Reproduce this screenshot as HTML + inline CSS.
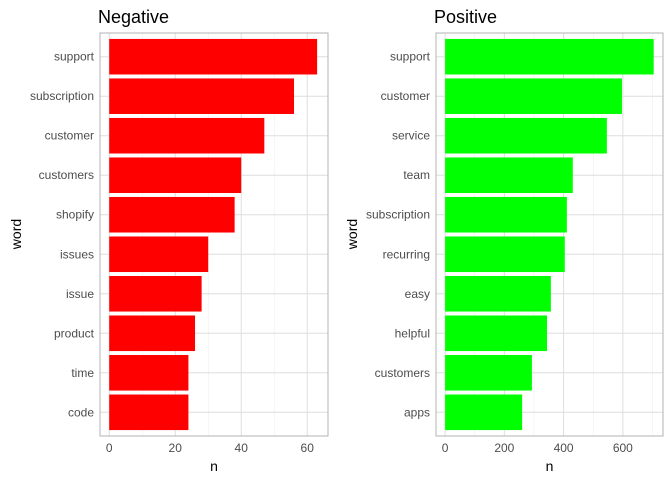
<!DOCTYPE html>
<html><head><meta charset="utf-8"><style>
body{margin:0;background:#fff;font-family:"Liberation Sans",sans-serif}
</style></head><body>
<svg id="c" width="672" height="480" xmlns="http://www.w3.org/2000/svg"></svg>
<script>
const negWords=["support","subscription","customer","customers","shopify","issues","issue","product","time","code"];
const negVals=[63,56,47,40,38,30,28,26,24,24];
const negTicks=[0,20,40,60];
const posWords=["support","customer","service","team","subscription","recurring","easy","helpful","customers","apps"];
const posVals=[704,597,546,431,411,404,357,344,293,260];
const posTicks=[0,200,400,600];
const svg=document.getElementById('c');
const NS='http://www.w3.org/2000/svg';
function mk(t,a,txt){const e=document.createElementNS(NS,t);for(const k in a)e.setAttribute(k,a[k]);if(txt!==undefined)e.textContent=txt;svg.appendChild(e);return e;}
function panel(p,words,vals,ticks,x0,x1,xmin,xmax,color,title){
  const top=33,bot=436;
  const sx=v=>x0+(v-xmin)/(xmax-xmin)*(x1-x0);
  const step=(bot-top)/(words.length-1+1.2), bh=step*0.9;
  const sy=i=>top+step*(i+0.6);
  for(let i=0;i<ticks.length;i++){const m=ticks[i]+(ticks[1]-ticks[0])/2;if(sx(m)<x1){const g=mk('line',{x1:sx(m),x2:sx(m),y1:top,y2:bot,stroke:'#ebebeb','stroke-width':0.5});}}
  ticks.forEach(t=>{const g=mk('line',{x1:sx(t),x2:sx(t),y1:top,y2:bot,stroke:'#dedede','stroke-width':1});
    const l=mk('text',{x:sx(t),y:bot+16,'text-anchor':'middle','font-size':12,fill:'#4d4d4d'},t);});
  words.forEach((w,i)=>{const g=mk('line',{x1:x0,x2:x1,y1:sy(i),y2:sy(i),stroke:'#dedede','stroke-width':1});});
  words.forEach((w,i)=>{
    const b=mk('rect',{x:sx(0),y:sy(i)-bh/2,width:sx(vals[i])-sx(0),height:bh,fill:color});
    
    const l=mk('text',{x:x0-6,y:sy(i)+4,'text-anchor':'end','font-size':12,fill:'#4d4d4d'},w);
    
  });
  const r=mk('rect',{x:x0,y:top,width:x1-x0,height:bot-top,fill:'none',stroke:'#b3b3b3','stroke-width':1});
  
  const t=mk('text',{x:x0-2,y:23,'font-size':18,fill:'#000'},title);
  const xl=mk('text',{x:(x0+x1)/2,y:471,'text-anchor':'middle','font-size':14,fill:'#000'},'n');
  return sx;
}
panel('negative',negWords,negVals,negTicks,100,328,-2.8,66.3,'#ff0000','Negative');
panel('positive',posWords,posVals,posTicks,436,663,-30.7,735.5,'#00ff00','Positive');
[[21,'negative'],[357,'positive']].forEach(([x,p])=>{const e=mk('text',{x:x,y:234,'text-anchor':'middle','font-size':14,fill:'#000',transform:`rotate(-90 ${x} 234)`},'word');});
</script>
</body></html>
